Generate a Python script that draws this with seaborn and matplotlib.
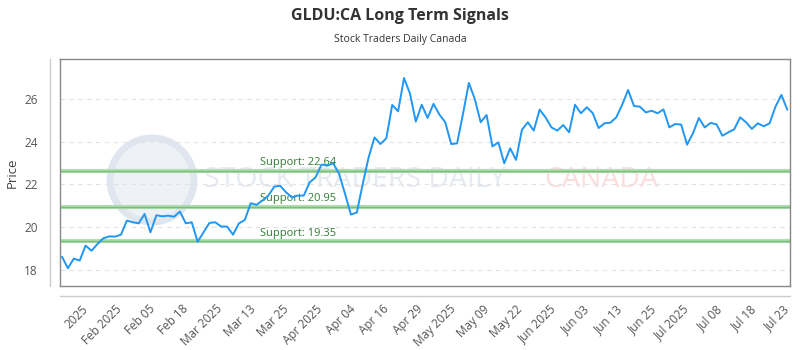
import numpy as np
import matplotlib
matplotlib.use("Agg")
import matplotlib.pyplot as plt
import matplotlib.transforms as mtransforms
from matplotlib.patches import Ellipse
import seaborn as sns

# ---- data ----
price = [
    18.62, 18.08, 18.53, 18.44, 19.14, 18.90, 19.21, 19.48, 19.57, 19.56,
    19.65, 20.31, 20.23, 20.18, 20.62, 19.76, 20.56, 20.51,
    20.54, 20.49, 20.73, 20.18, 20.23, 19.32, 19.76, 20.20, 20.23, 20.03,
    20.03, 19.65, 20.18, 20.34, 21.12, 21.05, 21.25,
    21.48, 21.90, 21.94, 21.63, 21.40, 21.48, 21.48, 22.10, 22.33, 22.93,
    22.88, 22.99, 22.49, 21.56, 20.59, 20.69, 22.02,
    23.27, 24.20, 23.89, 24.16, 25.72, 25.42, 26.98, 26.26, 24.94, 25.73,
    25.11, 25.77, 25.27, 24.91, 23.89, 23.92, 25.30,
    26.75, 26.00, 24.91, 25.25, 23.78, 23.97, 22.99, 23.69, 23.15, 24.56,
    24.91, 24.52, 25.50, 25.14, 24.67, 24.52, 24.78, 24.44,
    25.73, 25.33, 25.61, 25.34, 24.64, 24.86, 24.89, 25.14, 25.73, 26.42,
    25.67, 25.64, 25.37, 25.45, 25.33, 25.51, 24.67,
    24.83, 24.80, 23.86, 24.39, 25.11, 24.67, 24.88, 24.81, 24.28, 24.44,
    24.58, 25.14, 24.91, 24.60, 24.86, 24.72, 24.86, 25.64, 26.19, 25.50,
]
tick_labels = [
    "2025", "Feb 2025", "Feb 05", "Feb 18", "Mar 2025", "Mar 13", "Mar 25",
    "Apr 2025", "Apr 04", "Apr 16", "Apr 29", "May 2025", "May 09", "May 22",
    "Jun 2025", "Jun 03", "Jun 13", "Jun 25", "Jul 2025", "Jul 08", "Jul 18",
    "Jul 23",
]
support_levels = [22.64, 20.95, 19.35]
y_ticks = [18, 20, 22, 24, 26]

# ---- style ----
sns.set_theme(style="white")
plt.rcParams["font.family"] = ["Open Sans", "DejaVu Sans"]

fig = plt.figure(figsize=(8, 3.5), dpi=100)
ax = fig.add_axes([0.075, 0.1829, 0.9125, 0.6486])

idx = np.arange(len(price))
n = len(price)

# watermark
ax.add_patch(Ellipse((0.126, 0.467), 0.115, 0.37, transform=ax.transAxes,
                     facecolor="#eef2f7", edgecolor="#dfe6ef", lw=5,
                     zorder=0))
ax.text(0.197, 0.467, "STOCK TRADERS DAILY", transform=ax.transAxes,
        fontsize=20.5, color="#e6ebf2", va="center", ha="left", zorder=0)
ax.text(0.664, 0.467, "CANADA", transform=ax.transAxes,
        fontsize=20.5, color="#fcdede", va="center", ha="left", zorder=0)

# grid
for yt in y_ticks:
    ax.axhline(yt, color="#e3e3e3", lw=0.8, ls=(0, (4, 4)), zorder=1)

# support lines
trans = mtransforms.blended_transform_factory(ax.transAxes, ax.transData)
for lvl in support_levels:
    ax.axhline(lvl, color="#b3dcb3", lw=3, zorder=2)
    ax.axhline(lvl, color="#76c076", lw=1.0, zorder=2)
    ax.text(0.274, lvl + 0.12, f"Support: {lvl:.2f}", transform=trans,
            fontsize=8, color="#2e7d32", ha="left", va="bottom", zorder=3)

sns.lineplot(x=idx, y=price, ax=ax, color="#2196f3", lw=1.4, zorder=4)

ax.set_xlim(-0.34, n - 1 + 0.46)
ax.set_ylim(17.25, 27.87)

ax.set_yticks(y_ticks)
ax.set_yticklabels([str(v) for v in y_ticks])
tick_pos = np.linspace(3.34, 3.34 + 5.664 * (len(tick_labels) - 1), len(tick_labels))
ax.set_xticks(tick_pos)
ax.set_xticklabels(tick_labels, rotation=45, ha="right",
                   rotation_mode="anchor")
ax.tick_params(axis="x", length=0, pad=12, labelsize=8.5, labelcolor="#555555")
ax.tick_params(axis="y", length=0, pad=16, labelsize=8.5, labelcolor="#555555")

for s in ax.spines.values():
    s.set_color("#888888")
    s.set_linewidth(1.0)

# offset light axis lines
ax.plot([-0.0137, -0.0137], [0, 1], transform=ax.transAxes, color="#cccccc",
        lw=1, clip_on=False)
ax.plot([0, 1], [-0.044, -0.044], transform=ax.transAxes, color="#cccccc",
        lw=1, clip_on=False)

ax.set_ylabel("Price", fontsize=9.5, color="#444444", labelpad=4)
ax.set_xlabel("")

fig.text(0.5, 0.954, "GLDU:CA Long Term Signals", ha="center", va="center",
         fontsize=11.5, fontweight="bold", color="#333333")
fig.text(0.5, 0.886, "Stock Traders Daily Canada", ha="center", va="center",
         fontsize=7.5, color="#333333")

fig.savefig("out.png", dpi=100)
